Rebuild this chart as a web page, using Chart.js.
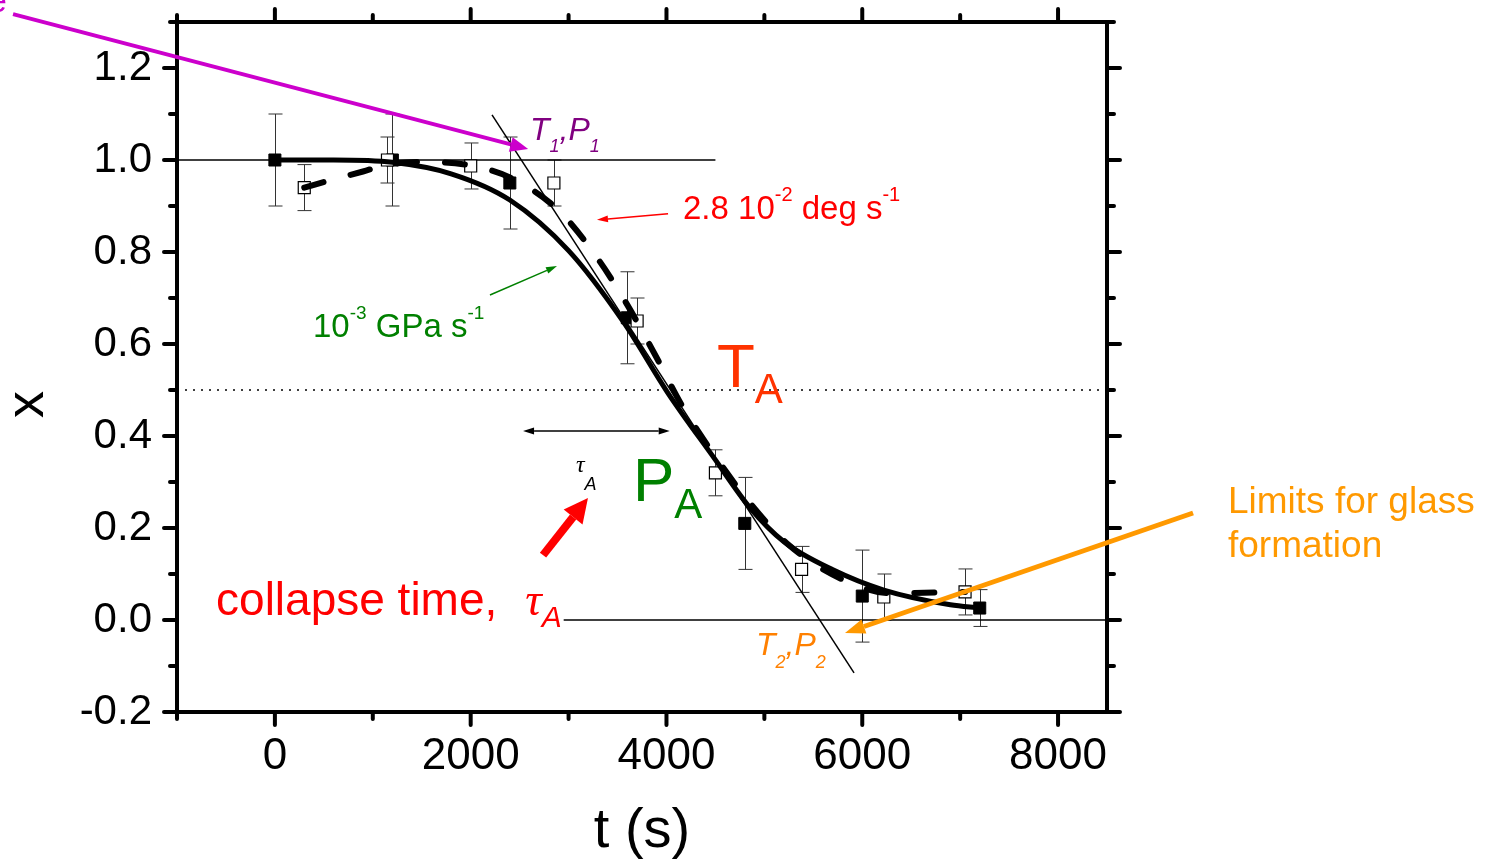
<!DOCTYPE html>
<html>
<head>
<meta charset="utf-8">
<title>x(t)</title>
<script src="https://cdn.jsdelivr.net/npm/chart.js@4.4.1/dist/chart.umd.min.js"></script>
<style>
  html, body { margin: 0; padding: 0; background: #fff; }
  #wrap { width: 1486px; height: 865px; }
</style>
</head>
<body>
<div id="wrap"><canvas id="myChart"></canvas></div>
<script>
// measured points, filled squares (T ramp)
const filledT = [0, 1200, 2400, 3600, 4800, 6000, 7200];
const filledX = [1.0, 1.0, 0.95, 0.657, 0.21, 0.052, 0.026];
const filledErr = [0.1, 0.1, 0.1, 0.1, 0.1, 0.1, 0.04];

// measured points, open squares (P ramp)
const openT = [300, 1150, 2000, 2850, 3700, 4500, 5380, 6220, 7050];
const openX = [0.94, 1.0, 0.987, 0.95, 0.65, 0.32, 0.11, 0.05, 0.061];
const openErr = [0.05, 0.05, 0.05, 0.05, 0.05, 0.05, 0.05, 0.05, 0.05];

// fitted curves
const fitT = [0, 600, 1200, 1800, 2400, 3000, 3560, 4010, 4480, 4860, 5200, 5700, 6220, 6900, 7200];
const fitX = [1.0, 1.0, 0.995, 0.97, 0.913, 0.803, 0.648, 0.495, 0.354, 0.242, 0.17, 0.109, 0.065, 0.033, 0.026];
const dashT = [300, 600, 900, 1150, 1500, 2000, 2400, 2900, 3300, 3600, 3900, 4170, 4500, 4850, 5250, 5800, 6300, 6800, 7050];
const dashX = [0.94, 0.958, 0.975, 0.99, 0.996, 0.988, 0.962, 0.89, 0.785, 0.685, 0.57, 0.462, 0.355, 0.255, 0.163, 0.088, 0.058, 0.06, 0.061];

// guide lines
const topLineT = [-1000, 4500];
const topLineX = [1.0, 1.0];
const zeroLineT = [2950, 8500];
const zeroLineX = [0, 0];
const halfLineT = [-1000, 8500];
const halfLineX = [0.5, 0.5];
const slopeT = [2218, 5916];
const slopeX = [1.098, -0.115];

// axes
const tRange = [-1000, 8500];
const xRange = [-0.2, 1.3];
const tMajor = [0, 2000, 4000, 6000, 8000];
const tMinor = [-1000, 1000, 3000, 5000, 7000];
const xMajor = [-0.2, 0, 0.2, 0.4, 0.6, 0.8, 1.0, 1.2];
const xMinor = [-0.1, 0.1, 0.3, 0.5, 0.7, 0.9, 1.1, 1.3];

const FONT = "'Liberation Sans', Arial, sans-serif";
const SERIF = "'Liberation Serif', 'Times New Roman', serif";

const pts = (ts, xs) => ts.map((t, i) => ({ x: t, y: xs[i] }));

function arrowHead(ctx, x1, y1, x2, y2, hl, hw) {
    const a = Math.atan2(y2 - y1, x2 - x1);
    const bx = x2 - hl * Math.cos(a), by = y2 - hl * Math.sin(a);
    ctx.beginPath();
    ctx.moveTo(x2, y2);
    ctx.lineTo(bx + hw / 2 * Math.sin(a), by - hw / 2 * Math.cos(a));
    ctx.lineTo(bx - hw / 2 * Math.sin(a), by + hw / 2 * Math.cos(a));
    ctx.closePath();
    ctx.fill();
    return [bx, by];
}

function arrow(ctx, p1, p2, opt) {
    ctx.strokeStyle = opt.color;
    ctx.fillStyle = opt.color;
    ctx.lineWidth = opt.width;
    ctx.lineCap = 'butt';
    let start = p1;
    if (opt.both) start = arrowHead(ctx, p2[0], p2[1], p1[0], p1[1], opt.head[0], opt.head[1]);
    const end = arrowHead(ctx, p1[0], p1[1], p2[0], p2[1], opt.head[0], opt.head[1]);
    ctx.beginPath();
    ctx.moveTo(start[0], start[1]);
    ctx.lineTo(end[0], end[1]);
    ctx.stroke();
}

// text made of runs (sub/superscripts)
function drawRuns(ctx, x, y, runs, color) {
    ctx.textAlign = 'left';
    ctx.textBaseline = 'alphabetic';
    runs.forEach(r => {
        ctx.font = (r.italic ? 'italic ' : '') + r.size + 'px ' + (r.family || FONT);
        ctx.fillStyle = r.color || color;
        x += r.dx || 0;
        ctx.fillText(r.text, x, y + (r.dy || 0));
        x += ctx.measureText(r.text).width;
    });
}

// annotation arrows, in data units
const arrows = [
    { from: [-2675, 1.317], to: [2587, 1.024], color: '#CC00CC', width: 4, head: [18, 15] },
    { from: [4016, 0.883], to: [3290, 0.870], color: '#FF0000', width: 1.5, head: [11, 7] },
    { from: [2197, 0.7065], to: [2882, 0.7696], color: '#008000', width: 1.5, head: [11, 7] },
    { from: [2739, 0.141], to: [3198, 0.265], color: '#FF0000', width: 8, head: [24, 24] },
    { from: [9379, 0.2326], to: [5824, -0.0283], color: '#FF9900', width: 5, head: [20, 15] },
    { from: [2535, 0.411], to: [4033, 0.411], color: '#000', width: 1.5, head: [11, 7], both: true }
];

// annotation texts, anchored at the left end of the baseline
const labels = [
    { at: [-2931, 1.3217], color: '#CC00CC', runs: [{ text: 'e', size: 34 }] },
    { at: [2606, 1.0435], color: '#800080', runs: [
        { text: 'T', size: 32, italic: true }, { text: '1', size: 18, italic: true, dy: 12 },
        { text: ',', size: 32, italic: true }, { text: 'P', size: 32, italic: true },
        { text: '1', size: 18, italic: true, dy: 12 }] },
    { at: [4169, 0.8717], color: '#FF0000', runs: [
        { text: '2.8 10', size: 33 }, { text: '-2', size: 20, dy: -18 },
        { text: ' deg s', size: 33 }, { text: '-1', size: 20, dy: -18 }] },
    { at: [389, 0.6152], color: '#008000', runs: [
        { text: '10', size: 33 }, { text: '-3', size: 19, dy: -18 },
        { text: ' GPa s', size: 33 }, { text: '-1', size: 19, dy: -18 }] },
    { at: [4516, 0.5065], color: '#FF3300', runs: [
        { text: 'T', size: 62 }, { text: 'A', size: 42, dy: 16 }] },
    { at: [3658, 0.2587], color: '#008000', runs: [
        { text: 'P', size: 62 }, { text: 'A', size: 42, dy: 17 }] },
    { at: [3075, 0.3217], color: '#000', runs: [
        { text: 'τ', size: 24, italic: true, family: SERIF }, { text: 'A', size: 18, italic: true, dy: 18 }] },
    { at: [-601, 0.0109], color: '#FF0000', runs: [
        { text: 'collapse time,', size: 46 }, { text: 'τ', size: 46, italic: true, family: SERIF, dx: 28 },
        { text: 'A', size: 30, italic: true, dy: 12 }] },
    { at: [4914, -0.0761], color: '#FF8000', runs: [
        { text: 'T', size: 32, italic: true }, { text: '2', size: 18, italic: true, dy: 13 },
        { text: ',', size: 32, italic: true }, { text: 'P', size: 32, italic: true },
        { text: '2', size: 18, italic: true, dy: 13 }] },
    { at: [9736, 0.2326], color: '#FF9900', runs: [{ text: 'Limits for glass', size: 37 }] },
    { at: [9736, 0.137], color: '#FF9900', runs: [{ text: 'formation', size: 37 }] }
];

const errorBars = {
    id: 'errorBars',
    beforeDatasetsDraw(chart) {
        const { ctx, scales: { x, y } } = chart;
        ctx.save();
        ctx.strokeStyle = '#333';
        ctx.lineWidth = 1;
        const draw = (ts, xs, es) => ts.forEach((t, i) => {
            const px = Math.round(x.getPixelForValue(t)) + 0.5;
            const lo = y.getPixelForValue(xs[i] - es[i]);
            const hi = y.getPixelForValue(xs[i] + es[i]);
            ctx.beginPath();
            ctx.moveTo(px, lo); ctx.lineTo(px, hi);
            ctx.moveTo(px - 7, lo); ctx.lineTo(px + 7, lo);
            ctx.moveTo(px - 7, hi); ctx.lineTo(px + 7, hi);
            ctx.stroke();
        });
        draw(filledT, filledX, filledErr);
        draw(openT, openX, openErr);
        ctx.restore();
    }
};

const notes = {
    id: 'notes',
    afterDatasetsDraw(chart) {
        const { ctx, scales: { x, y } } = chart;
        const p = v => [x.getPixelForValue(v[0]), y.getPixelForValue(v[1])];
        ctx.save();
        arrows.forEach(a => arrow(ctx, p(a.from), p(a.to), a));
        labels.forEach(l => {
            const [px, py] = p(l.at);
            drawRuns(ctx, px, py, l.runs, l.color);
        });
        ctx.restore();
    }
};

// outward major/minor ticks on all four sides, plus the rotated y title
const frame = {
    id: 'frame',
    afterDraw(chart) {
        const { ctx, chartArea: a, scales: { x, y } } = chart;
        ctx.save();
        ctx.strokeStyle = '#000';
        ctx.lineWidth = 4;
        ctx.lineCap = 'round';
        ctx.beginPath();
        const tTick = (v, len) => {
            const px = x.getPixelForValue(v);
            ctx.moveTo(px, a.bottom); ctx.lineTo(px, a.bottom + len);
            ctx.moveTo(px, a.top); ctx.lineTo(px, a.top - len);
        };
        const xTick = (v, len) => {
            const py = y.getPixelForValue(v);
            ctx.moveTo(a.left, py); ctx.lineTo(a.left - len, py);
            ctx.moveTo(a.right, py); ctx.lineTo(a.right + len, py);
        };
        tMajor.forEach(v => tTick(v, 13));
        tMinor.forEach(v => tTick(v, 7));
        xMajor.forEach(v => xTick(v, 13));
        xMinor.forEach(v => xTick(v, 7));
        ctx.stroke();

        ctx.fillStyle = '#000';
        ctx.font = '54px ' + FONT;
        ctx.textAlign = 'center';
        ctx.textBaseline = 'alphabetic';
        ctx.translate(28.5, 404.5);
        ctx.rotate(-Math.PI / 2);
        ctx.fillText('x', 0, 14);
        ctx.restore();
    }
};

const lineSet = (ts, xs, extra) => Object.assign({
    type: 'line',
    data: pts(ts, xs),
    borderColor: '#000',
    borderWidth: 1.5,
    pointRadius: 0,
    fill: false
}, extra);

const frameScale = (pos, range, size) => ({
    type: 'linear', position: pos, min: range[0], max: range[1],
    grid: { display: false, drawTicks: false },
    border: { display: true, width: 4, color: '#000' },
    ticks: { display: false },
    afterFit: s => {
        if (s.isHorizontal()) { s.height = size; s.paddingLeft = 0; s.paddingRight = 0; }
        else { s.width = size; s.paddingTop = 0; s.paddingBottom = 0; }
    }
});

const xScale = Object.assign(frameScale('bottom', tRange, 153), {
    ticks: {
        display: true, autoSkip: false, maxRotation: 0, padding: 18, color: '#000',
        font: { family: FONT, size: 44 },
        callback: v => String(v)
    },
    afterBuildTicks: s => { s.ticks = tMajor.map(v => ({ value: v })); },
    title: { display: true, text: 't (s)', color: '#000', font: { family: FONT, size: 56 }, padding: { top: 0, bottom: 0 } }
});

const yScale = Object.assign(frameScale('left', xRange, 177), {
    ticks: {
        display: true, autoSkip: false, padding: 25, color: '#000',
        font: { family: FONT, size: 42 },
        callback: v => v.toFixed(1)
    },
    afterBuildTicks: s => { s.ticks = xMajor.map(v => ({ value: v })); }
});

const chart = new Chart(document.getElementById('myChart'), {
    type: 'line',
    data: {
        datasets: [
            lineSet(dashT, dashX, { borderWidth: 6, borderDash: [20, 28], borderCapStyle: 'round', cubicInterpolationMode: 'monotone', order: 1 }),
            lineSet(fitT, fitX, { borderWidth: 5, cubicInterpolationMode: 'monotone', order: 2 }),
            {
                type: 'line', data: pts(openT, openX), showLine: false, order: 3,
                pointStyle: 'rect', pointRadius: 8.5, pointBackgroundColor: '#fff',
                pointBorderColor: '#000', pointBorderWidth: 1.2
            },
            {
                type: 'line', data: pts(filledT, filledX), showLine: false, order: 4,
                pointStyle: 'rect', pointRadius: 8.5, pointBackgroundColor: '#000',
                pointBorderColor: '#000', pointBorderWidth: 1
            },
            lineSet(topLineT, topLineX, { order: 5 }),
            lineSet(zeroLineT, zeroLineX, { order: 6 }),
            lineSet(slopeT, slopeX, { order: 7 }),
            lineSet(halfLineT, halfLineX, { borderDash: [2, 6], order: 8 })
        ]
    },
    options: {
        responsive: true,
        maintainAspectRatio: false,
        animation: false,
        events: [],
        layout: { padding: 0 },
        plugins: { legend: { display: false }, tooltip: { enabled: false } },
        scales: {
            x: xScale,
            xTop: frameScale('top', tRange, 22),
            y: yScale,
            yRight: frameScale('right', xRange, 379)
        }
    },
    plugins: [errorBars, notes, frame]
});
</script>
</body>
</html>
